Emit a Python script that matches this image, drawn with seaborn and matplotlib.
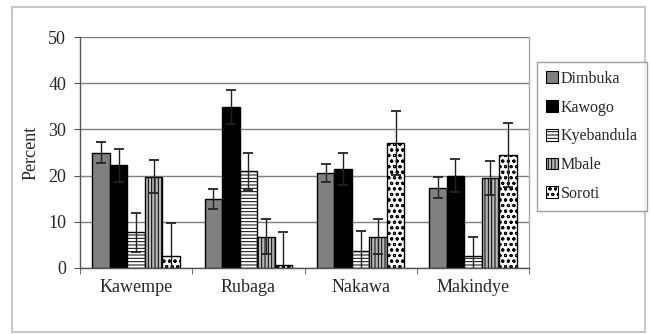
import matplotlib
matplotlib.use("Agg")
import matplotlib.pyplot as plt
import seaborn as sns
import pandas as pd
import numpy as np
from matplotlib.patches import Rectangle, Patch

divisions = ["Kawempe", "Rubaga", "Nakawa", "Makindye"]
sources = ["Dimbuka", "Kawogo", "Kyebandula", "Mbale", "Soroti"]

# values per source across divisions
dimbuka = [25.0, 15.0, 20.6, 17.4]
kawogo = [22.2, 34.8, 21.4, 20.0]
kyebandula = [7.7, 20.9, 3.6, 2.6]
mbale = [19.8, 6.8, 6.8, 19.4]
soroti = [2.6, 0.6, 27.1, 24.5]

dimbuka_err = [2.2, 2.2, 2.0, 2.2]
kawogo_err = [3.6, 3.7, 3.4, 3.5]
kyebandula_err = [4.3, 4.1, 4.4, 4.2]
mbale_err = [3.6, 3.7, 3.7, 3.7]
soroti_err = [7.1, 7.1, 6.9, 6.9]

values = [dimbuka, kawogo, kyebandula, mbale, soroti]
errors = [dimbuka_err, kawogo_err, kyebandula_err, mbale_err, soroti_err]

rows = []
for s, vals in zip(sources, values):
    for d, v in zip(divisions, vals):
        rows.append({"Division": d, "Source": s, "Percent": v})
df = pd.DataFrame(rows)

sns.set_style("white")
plt.rcParams["font.family"] = ["Liberation Serif", "DejaVu Serif"]
plt.rcParams["hatch.linewidth"] = 0.7

fig = plt.figure(figsize=(6.5, 3.34), dpi=100)
ax = fig.add_axes([80/650, 66/334, 449/650, 231/334])

facecolors = ["#808080", "#000000", "#ffffff", "#b8b8b8", "#ffffff"]
hatches = [None, None, "-----", "|||||", "ooo"]

sns.barplot(data=df, x="Division", y="Percent", hue="Source", order=divisions,
            hue_order=sources, width=0.78, errorbar=None, ax=ax,
            edgecolor="black", linewidth=1.0, legend=False)

bar_containers = list(ax.containers)
for i, cont in enumerate(bar_containers):
    for p in cont.patches:
        p.set_facecolor(facecolors[i])
        p.set_edgecolor("black")
        p.set_linewidth(1.0)
        if hatches[i]:
            p.set_hatch(hatches[i])
    xs = [p.get_x() + p.get_width() / 2 for p in cont.patches]
    ys = [p.get_height() for p in cont.patches]
    ax.errorbar(xs, ys, yerr=errors[i], fmt="none", ecolor="#222222",
                elinewidth=1.0, capsize=3.5, capthick=1.3, zorder=5)

ax.set_ylim(0, 50)
ax.set_xlim(-0.5, 3.5)
ax.set_yticks([0, 10, 20, 30, 40, 50])
ax.yaxis.grid(True, color="#808080", linewidth=1.0)
ax.set_axisbelow(True)
ax.set_xlabel("")
ax.set_ylabel("Percent", fontsize=13, labelpad=6)

ax.set_xticks(range(4))
ax.set_xticklabels(divisions, fontsize=13)
ax.tick_params(axis="x", which="major", length=0, pad=8)
ax.set_xticks([-0.5, 0.5, 1.5, 2.5, 3.5], minor=True)
ax.tick_params(axis="x", which="minor", length=4, direction="out", color="#555555", bottom=True)
ax.tick_params(axis="y", length=4, direction="out", color="#555555", left=True, labelsize=13, pad=6)

for side in ["left", "bottom"]:
    ax.spines[side].set_color("#555555")
    ax.spines[side].set_linewidth(1.0)
ax.spines["top"].set_visible(False)
ax.spines["right"].set_color("#aaaaaa")
ax.spines["right"].set_linewidth(1.0)

handles = [Patch(facecolor=facecolors[i], edgecolor="black", hatch=hatches[i], linewidth=0.8)
           for i in range(5)]
leg = fig.legend(handles, sources, loc="upper left", bbox_to_anchor=(537/650, 1 - 62/334),
                 fontsize=11.5, frameon=True, fancybox=False, handlelength=0.75,
                 handleheight=0.75, handletextpad=0.2, labelspacing=0.8,
                 borderpad=0.55, borderaxespad=0)
leg.get_frame().set_edgecolor("#888888")
leg.get_frame().set_linewidth(1.0)

fig.patches.append(Rectangle((12/650, 2/334), 633/650, 325/334, transform=fig.transFigure,
                             fill=False, edgecolor="#c8c8c8", linewidth=1.5))

fig.savefig("out.png", dpi=100)
